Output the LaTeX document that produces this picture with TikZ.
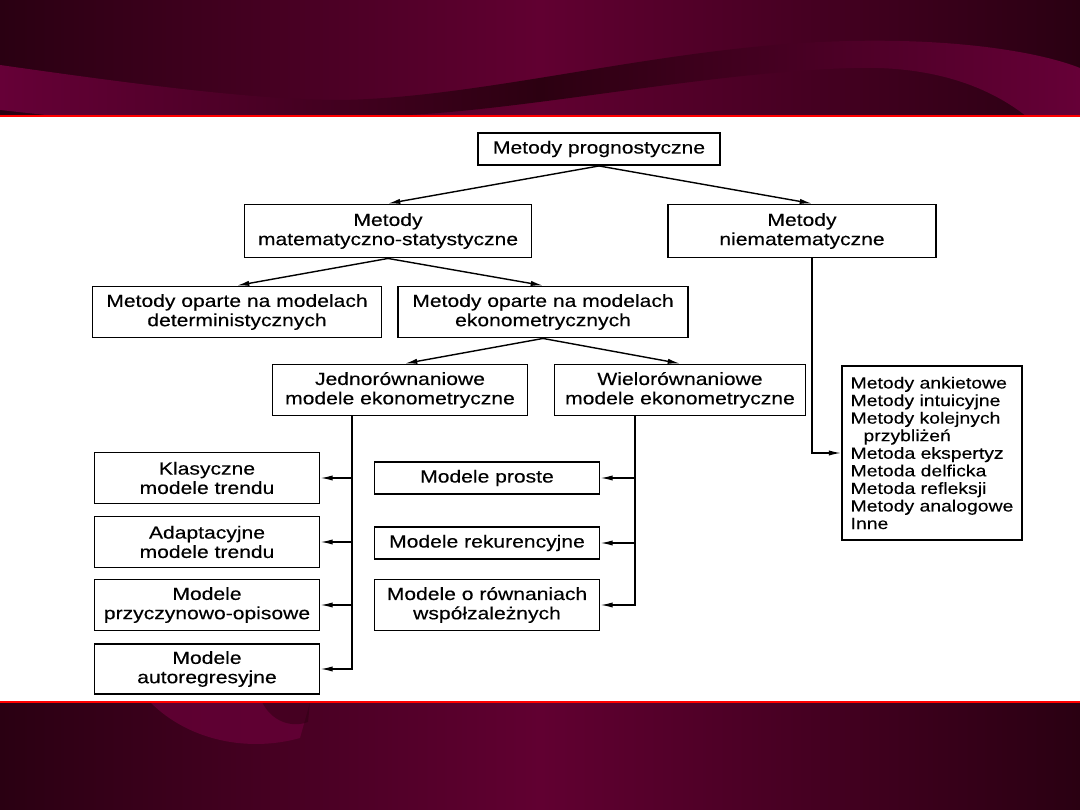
\documentclass[tikz,border=0pt]{standalone}
\usepackage{fontspec}
\setmainfont{Liberation Sans}[FakeStretch=1.2, FakeBold=0.3]
\usepackage{tikz}
\usetikzlibrary{positioning, arrows.meta}

\definecolor{bandedge}{HTML}{2A0012}
\definecolor{bandmid}{HTML}{610031}
\definecolor{ribbonlight}{HTML}{660037}
\definecolor{ribbondark}{HTML}{2C0011}

\tikzset{
  box/.style={draw, line width=1.1pt, align=center, inner sep=2pt,
    font=\fontsize{10}{11}\selectfont},
  link/.style={line width=0.8pt, -{Latex[length=7pt, width=3pt]}},
}

\begin{document}
\begin{tikzpicture}[x=0.02cm, y=-0.02cm]
    \useasboundingbox (0,0) rectangle (1080,810);

    % top and bottom bands
    \shade[left color=bandedge, right color=bandedge, middle color=bandmid]
        (0,0) rectangle (1080,116);
    \shade[left color=ribbonlight, right color=ribbonlight, middle color=ribbondark]
        (0,65) .. controls (120,82) and (250,100) .. (340,100)
        .. controls (480,98) and (650,50) .. (820,42)
        .. controls (950,36) and (1040,52) .. (1080,68)
        -- (1080,116) -- (1026,116)
        .. controls (980,80) and (920,66) .. (854,68)
        .. controls (700,72) and (500,116) .. (372,116)
        -- (55,116) -- (0,110) -- cycle;
    \shade[left color=bandedge, right color=bandedge, middle color=bandmid]
        (0,702) rectangle (1080,810);
    \fill[ribbonlight, opacity=0.8]
        (150,702) .. controls (190,742) and (250,752) .. (300,738) -- (310,702) -- cycle;
    \fill[ribbondark, opacity=0.5]
        (262,702) .. controls (272,722) and (292,728) .. (308,722) -- (310,702) -- cycle;
    \draw[red, line width=0.04cm] (0,116) -- (1080,116);
    \draw[red, line width=0.04cm] (0,702) -- (1080,702);

    % boxes
    \node[box, minimum width=4.84cm, minimum height=0.64cm] (prog) at (599,149) {Metody prognostyczne};
    \node[box, minimum width=5.74cm, minimum height=1.06cm] (matstat) at (388,231) {Metody\\ matematyczno-statystyczne};
    \node[box, minimum width=5.36cm, minimum height=1.06cm] (niemat) at (802,231) {Metody\\ niematematyczne};
    \node[box, minimum width=5.78cm, minimum height=1.02cm] (determ) at (237,312) {Metody oparte na modelach\\ deterministycznych};
    \node[box, minimum width=5.8cm, minimum height=1.02cm] (ekon) at (543,312) {Metody oparte na modelach\\ ekonometrycznych};
    \node[box, minimum width=5.1cm, minimum height=1.02cm] (jedno) at (400,390) {Jednorównaniowe\\ modele ekonometryczne};
    \node[box, minimum width=5.02cm, minimum height=1.02cm] (wielo) at (680,390) {Wielorównaniowe\\ modele ekonometryczne};
    \node[box, align=left, minimum width=3.6cm, minimum height=3.48cm,
        font=\fontsize{9.2}{10}\selectfont] (lista) at (932,453)
        {Metody ankietowe\\ Metody intuicyjne\\ Metody kolejnych\\ \hspace*{0.8em}przybliżeń\\ Metoda ekspertyz\\
         Metoda delficka\\ Metoda refleksji\\ Metody analogowe\\ Inne};

    \node[box, minimum width=4.5cm, minimum height=1.02cm] (klas) at (207,478) {Klasyczne\\ modele trendu};
    \node[box, minimum width=4.5cm, minimum height=1.02cm] (adapt) at (207,542) {Adaptacyjne\\ modele trendu};
    \node[box, minimum width=4.5cm, minimum height=1.02cm] (przycz) at (207,605) {Modele\\ przyczynowo-opisowe};
    \node[box, minimum width=4.5cm, minimum height=1.0cm] (autoreg) at (207,669) {Modele\\ autoregresyjne};

    \node[box, minimum width=4.5cm, minimum height=0.64cm] (proste) at (487,478) {Modele proste};
    \node[box, minimum width=4.5cm, minimum height=0.64cm] (rekur) at (487,543) {Modele rekurencyjne};
    \node[box, minimum width=4.5cm, minimum height=1.02cm] (rown) at (487,605) {Modele o równaniach\\ współzależnych};

    % connectors
    \draw[link] (prog.south) -- (matstat.north);
    \draw[link] (prog.south) -- ([xshift=0.2cm]niemat.north);
    \draw[link] (matstat.south) -- (determ.north);
    \draw[link] (matstat.south) -- (ekon.north);
    \draw[link] (ekon.south) -- ([xshift=0.1cm]jedno.north);
    \draw[link] (ekon.south) -- (wielo.north);
    \draw[link] ([xshift=0.2cm]niemat.south) |- (lista.west);

    \coordinate (jtrunk) at ([xshift=-0.96cm]jedno.south);
    \foreach \m in {klas, adapt, przycz, autoreg}
        \draw[link] (jtrunk) |- (\m.east);

    \coordinate (wtrunk) at ([xshift=-0.9cm]wielo.south);
    \foreach \m in {proste, rekur, rown}
        \draw[link] (wtrunk) |- (\m.east);

\end{tikzpicture}
\end{document}
